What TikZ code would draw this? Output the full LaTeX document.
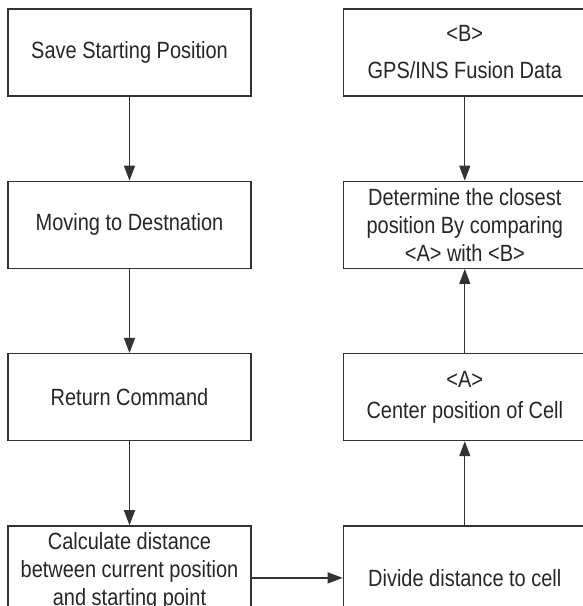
\documentclass[tikz,border=0pt]{standalone}
\usepackage{fontspec}
\setmainfont{Liberation Sans}[FakeStretch=0.85]
\usetikzlibrary{arrows.meta,positioning}

\begin{document}
\begin{tikzpicture}[-{Triangle[length=15pt,width=11pt]},node distance=84pt and 91pt,
                    line width=1.3pt,draw=black!80,
                    box/.style={rectangle,draw,minimum width=243pt,minimum height=87pt,
                      align=center,text=black!85,font=\fontsize{23.5}{28}\selectfont}]

  \useasboundingbox (0,0) rectangle (583pt,606pt);
  \clip (0,0) rectangle (583pt,606pt);

  \node[box] (save) at (129.5pt,553.5pt) {Save Starting Position};
  \node[box] (move) [below=of save] {Moving to Destnation};
  \node[box] (ret) [below=of move] {Return Command};
  \node[box,minimum height=104pt,text depth=17pt] (calc) [below=of ret]
    {Calculate distance\\between current position\\and starting point};

  \node[box] (fusion) [right=of save] {<B>\\[9pt]GPS/INS Fusion Data};
  \node[box] (closest) [below=of fusion]
    {Determine the closest\\position By comparing\\<A> with <B>};
  \node[box] (center) [below=of closest] {<A>\\[3pt]Center position of Cell};
  \node[box,minimum height=104pt] (divide) [below=of center] {Divide distance to cell};

  \path (save) edge (move)
        (move) edge (ret)
        (ret) edge (calc)
        (calc) edge (divide)
        (divide) edge (center)
        (center) edge (closest)
        (fusion) edge (closest);
\end{tikzpicture}
\end{document}
